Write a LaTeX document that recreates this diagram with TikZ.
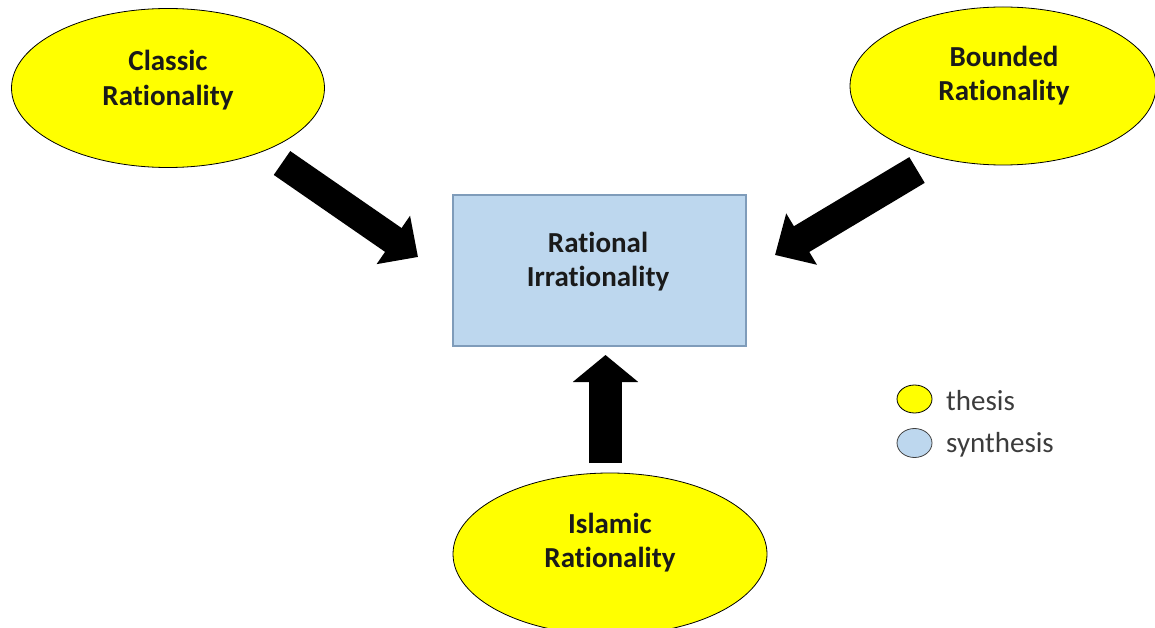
\documentclass[tikz,border=0pt]{standalone}
\usepackage{fontspec}
\setmainfont{Carlito}[Ligatures=NoCommon]
\usetikzlibrary{arrows.meta,shapes.geometric}
\definecolor{thesisyellow}{HTML}{FFFF00}
\definecolor{synthblue}{HTML}{BDD7EE}
\definecolor{synthborder}{HTML}{7F9CBA}
\definecolor{txt}{HTML}{1A1A1A}
\tikzset{
  thesis/.style={ellipse, draw=black, line width=0.8pt, fill=thesisyellow, inner sep=0pt},
  synthbox/.style={rectangle, draw=synthborder, line width=1.6pt, fill=synthblue, inner sep=0pt,
     minimum width=293pt, minimum height=151pt},
  lbl/.style={align=center, text=txt, font=\fontsize{29}{34.5}\selectfont\bfseries, inner sep=0pt},
  legtxt/.style={anchor=west, text=txt!85, font=\fontsize{29}{34}\selectfont, inner sep=0pt},
  bigarrow/.style={line width=30pt, -{Triangle[length=30pt,width=60pt]}},
}
\begin{document}
\begin{tikzpicture}[x=1pt,y=-1pt]
\useasboundingbox (0,0) rectangle (1155,628);
\clip (0,0) rectangle (1155,628);
% thesis ellipses
\node[thesis, minimum width=313pt, minimum height=159pt] (classic) at (168,88) {};
\node[lbl] (classicT) at (168,80) {Classic\\Rationality};
\node[thesis, minimum width=306pt, minimum height=158pt] (bounded) at (1003,86) {};
\node[lbl] (boundedT) at (1004,75.5) {Bounded\\Rationality};
\node[thesis, minimum width=314pt, minimum height=162pt] (islamic) at (610,554) {};
\node[lbl] (islamicT) at (610,542.5) {Islamic\\Rationality};
% synthesis box
\node[synthbox] (rat) at (599.5,270.5) {};
\node[lbl] (ratT) at (598,261.5) {Rational\\Irrationality};
% arrows
\coordinate (c1) at (282,163);
\coordinate (c2) at (418,257);
\draw[bigarrow, line width=29pt, -{Triangle[length=30pt,width=57pt]}] (c1) -- (c2);
\coordinate (b1) at (917,170);
\coordinate (b2) at (775,255);
\draw[bigarrow, -{Triangle[length=31pt,width=58pt]}] (b1) -- (b2);
\coordinate (i1) at (605.5,463);
\coordinate (i2) at (605.5,355);
\draw[bigarrow, line width=33pt, -{Triangle[length=27pt,width=64pt]}] (i1) -- (i2);
% legend
\node[ellipse, draw=black, line width=0.8pt, fill=thesisyellow, minimum width=35pt, minimum height=28pt, inner sep=0pt] (legY) at (914.5,399) {};
\node[legtxt] (legYT) at (946,401) {thesis};
\node[ellipse, draw=black!75, line width=0.8pt, fill=synthblue, minimum width=35pt, minimum height=29pt, inner sep=0pt] (legB) at (914.5,443) {};
\node[legtxt] (legBT) at (946,445) {synthesis};
\end{tikzpicture}
\end{document}
